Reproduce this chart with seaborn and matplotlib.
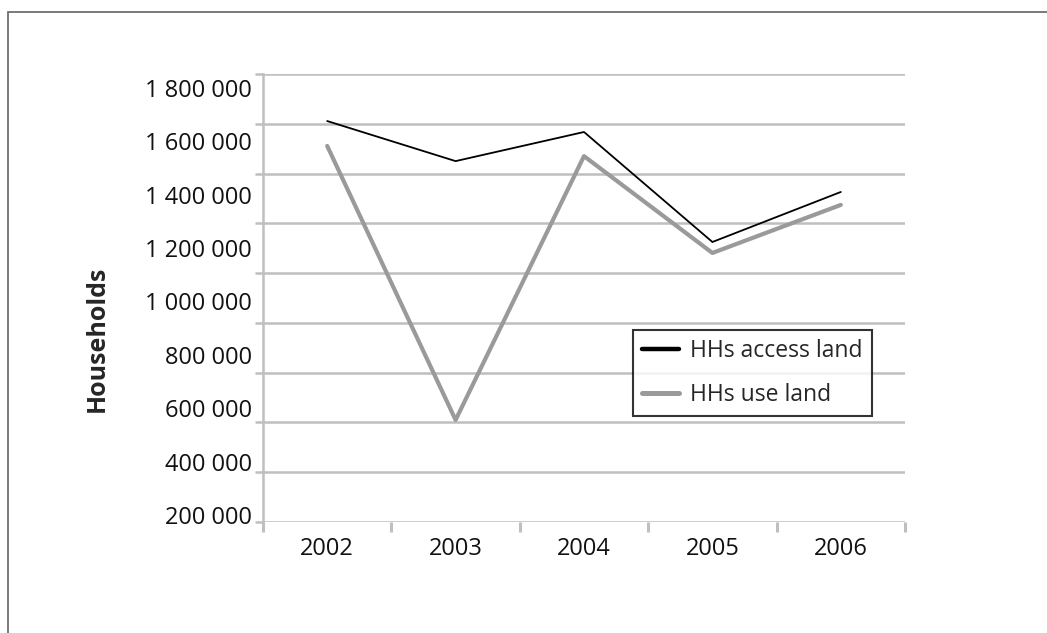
import matplotlib

matplotlib.use("Agg")
import matplotlib.pyplot as plt
import pandas as pd
import seaborn as sns
from matplotlib.patches import Rectangle

years = ["2002", "2003", "2004", "2005", "2006"]
access_land = [1611000, 1450000, 1567000, 1125000, 1326000]
use_land = [1511000, 410000, 1470000, 1081000, 1274000]
series_names = ["HHs access land", "HHs use land"]
y_tick_labels = ["200 000", "400 000", "600 000", "800 000", "1 000 000",
                 "1 200 000", "1 400 000", "1 600 000", "1 800 000"]

df = pd.DataFrame(
    {
        "year": years * 2,
        "households": access_land + use_land,
        "series": [series_names[0]] * len(years) + [series_names[1]] * len(years),
    }
)

sns.set_style("white")
plt.rcParams["font.family"] = ["Open Sans", "DejaVu Sans"]
fs = 17

fig = plt.figure(figsize=(10.47, 6.33), dpi=100)
ax = fig.add_axes([263 / 1047, 1 - 522 / 633, (905 - 263) / 1047, (522 - 74) / 633])

grid_col = "#bfbfbf"
sns.lineplot(
    data=df, x="year", y="households", hue="series", hue_order=series_names,
    palette=["#000000", "#9a9a9c"], ax=ax, sort=False, legend=False,
)
ax.lines[0].set_linewidth(1.3)
ax.lines[1].set_linewidth(3.0)
ax.lines[0].set_zorder(4)

ax.set_xlim(-0.5, 4.5)
ax.set_ylim(0, 1800000)

# gridlines every 200k, labels sit slightly off the lines as in the source
ax.set_yticks(range(0, 1800001, 200000))
ax.set_yticklabels([])
ax.yaxis.grid(True, color=grid_col, linewidth=1.8)
ax.tick_params(axis="y", which="major", length=6, width=1.8, color=grid_col, left=True)
label_pos = [28000 + i * 214500 for i in range(len(y_tick_labels))]
ax.set_yticks(label_pos, minor=True)
ax.set_yticklabels(y_tick_labels, minor=True)
ax.tick_params(axis="y", which="minor", length=0, pad=8, labelsize=fs, labelcolor="#111111")

ax.set_xticks(range(len(years)))
ax.set_xticklabels(years)
ax.set_xticks([i - 0.5 for i in range(len(years) + 1)], minor=True)
ax.tick_params(axis="x", which="major", length=0, pad=11, labelsize=fs, labelcolor="#111111")
ax.tick_params(axis="x", which="minor", length=7, width=2.2, color=grid_col, bottom=True)

for side in ["top", "right", "bottom"]:
    ax.spines[side].set_visible(False)
ax.spines["left"].set_color(grid_col)
ax.spines["left"].set_linewidth(1.8)

ax.set_xlabel("")
ax.set_ylabel("Households", fontsize=fs + 1, fontweight="bold")
ax.yaxis.set_label_coords(-0.238, 0.408)

handles = [
    plt.Line2D([], [], color="#000000", linewidth=3.2),
    plt.Line2D([], [], color="#9a9a9c", linewidth=3.6),
]
leg = ax.legend(
    handles, series_names, loc="upper left", bbox_to_anchor=((633 - 263) / 642, (522 - 330) / 448),
    frameon=True, fancybox=False, fontsize=16.5, handlelength=1.6, handletextpad=0.5,
    borderpad=0.4, labelspacing=0.85, borderaxespad=0,
)
leg.get_frame().set_edgecolor("#000000")
leg.get_frame().set_linewidth(1.5)

fig.add_artist(Rectangle((8 / 1047, -0.2), 1.2, 1.2 - 12 / 633, transform=fig.transFigure,
                         fill=False, edgecolor="#707070", linewidth=1.3, clip_on=False))

fig.savefig("out.png", dpi=100)
